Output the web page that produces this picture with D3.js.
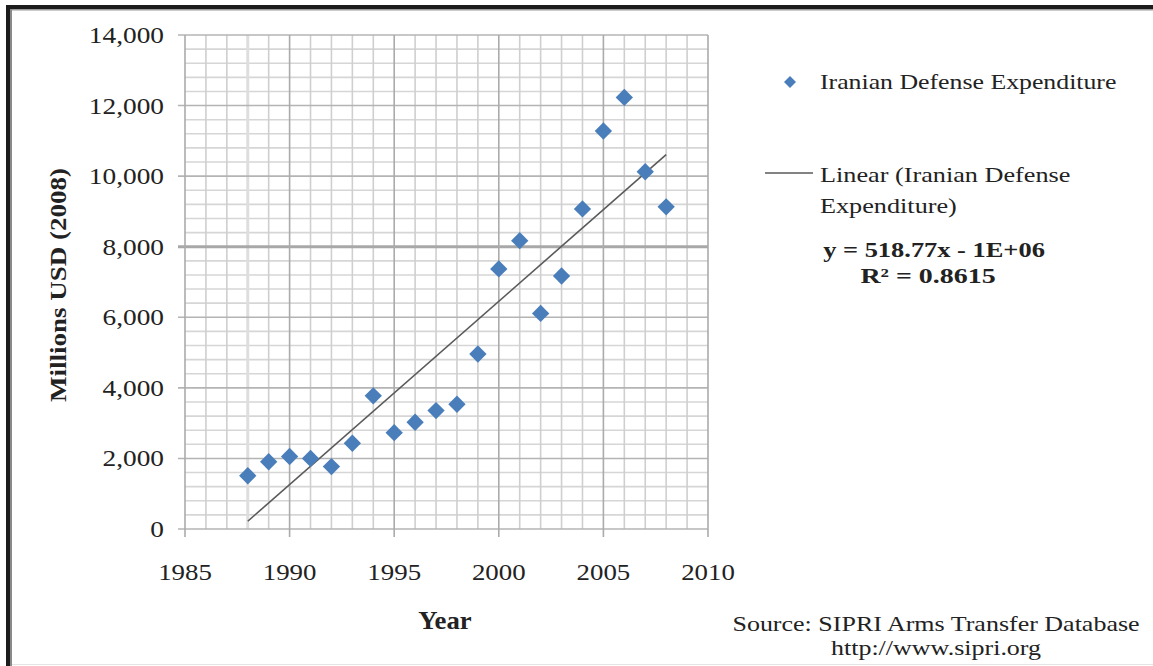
<!DOCTYPE html>
<html><head><meta charset="utf-8">
<script src="https://cdn.jsdelivr.net/npm/d3@7/dist/d3.min.js"></script>
<style>
html,body{margin:0;padding:0;background:#fff;}
svg{display:block;}
text{font-family:"Liberation Serif","Times New Roman",serif;fill:#222;}
</style></head>
<body>
<script>
const years = [1988,1989,1990,1991,1992,1993,1994,1995,1996,1997,1998,1999,2000,2001,2002,2003,2004,2005,2006,2007,2008];
const spending = [1510,1905,2055,2000,1770,2430,3775,2730,3025,3355,3535,4960,7370,8170,6110,7170,9070,11280,12230,10125,9130];
const xTicks = [1985,1990,1995,2000,2005,2010];
const yTicks = [0,2000,4000,6000,8000,10000,12000,14000];
const seriesName = "Iranian Defense Expenditure";
const trendLabel = ["Linear (Iranian Defense", "Expenditure)"];
const equationLines = ["y = 518.77x - 1E+06", "R\u00B2 = 0.8615"];
const xTitle = "Year";
const yTitle = "Millions USD (2008)";
const sourceLines = ["Source: SIPRI Arms Transfer Database", "http://www.sipri.org"];

const W = 1153, H = 666;
const svg = d3.select("body").append("svg").attr("width", W).attr("height", H);

// frame
svg.append("rect").attr("x",0).attr("y",0).attr("width",W).attr("height",H).attr("fill","#fff");
svg.append("rect").attr("x",6).attr("y",5).attr("width",W-6).attr("height",4).attr("fill","#1c1c1c");
svg.append("rect").attr("x",6).attr("y",9).attr("width",W-6).attr("height",1.5).attr("fill","#9a9a9a");
svg.append("rect").attr("x",6).attr("y",5).attr("width",4).attr("height",H-5).attr("fill","#1c1c1c");
svg.append("rect").attr("x",10).attr("y",9).attr("width",2).attr("height",H-9).attr("fill","#8a8a8a");
svg.append("line").attr("x1",12).attr("x2",W).attr("y1",H-1.5).attr("y2",H-1.5).attr("stroke","#e4e4e4").attr("stroke-width",1);

const x = d3.scaleLinear().domain([1985,2010]).range([185,708]);
const y = d3.scaleLinear().domain([0,14000]).range([529,35]);

const grid = svg.append("g");
// minor horizontal gridlines (every 400)
grid.selectAll("line.hm").data(d3.range(0,14001,400).filter(v=>v%2000!==0)).join("line")
  .attr("x1",x(1985)).attr("x2",x(2010)).attr("y1",d=>y(d)).attr("y2",d=>y(d))
  .attr("stroke","#d6d6d6").attr("stroke-width",1.6);
// minor vertical gridlines (every year)
grid.selectAll("line.vm").data(d3.range(1986,2010).filter(v=>v%5!==0)).join("line")
  .attr("x1",d=>x(d)).attr("x2",d=>x(d)).attr("y1",y(0)).attr("y2",y(14000))
  .attr("stroke",d=>d===1988?"#dedede":"#cfcfcf").attr("stroke-width",d=>d===1988?3:1.6);
// major horizontal
grid.selectAll("line.hM").data(yTicks).join("line")
  .attr("x1",x(1985)-7).attr("x2",x(2010)).attr("y1",d=>y(d)).attr("y2",d=>y(d))
  .attr("stroke",d=>d===8000?"#a8a8a8":"#b4b4b4").attr("stroke-width",d=>d===8000?3:1.6);
// major vertical
grid.selectAll("line.vM").data(xTicks).join("line")
  .attr("x1",d=>x(d)).attr("x2",d=>x(d)).attr("y1",y(0)+8).attr("y2",y(14000))
  .attr("stroke","#ababab").attr("stroke-width",1.6);

// helper for stretched text
function txt(g, s, px, py, opts){
  const t = g.append("text").text(s)
    .attr("transform",`translate(${px},${py}) scale(${opts.sx||1.12},1)`)
    .attr("font-size",opts.size||22)
    .attr("text-anchor",opts.anchor||"start");
  if(opts.bold) t.attr("font-weight","bold");
  return t;
}

// y tick labels
const yl = svg.append("g");
yTicks.forEach(v=>{
  txt(yl, d3.format(",")(v), 164, y(v)+8, {size:24, anchor:"end", sx:1.14});
});
// x tick labels
const xl = svg.append("g");
xTicks.forEach(v=>{
  txt(xl, String(v), x(v), 580, {size:24, anchor:"middle", sx:1.12});
});

// trend line computed from data
const mx = d3.mean(years), my = d3.mean(spending);
const slope = d3.sum(years,(d,i)=>(d-mx)*(spending[i]-my))/d3.sum(years,d=>(d-mx)*(d-mx));
const icpt = my - slope*mx;
const yr0 = d3.min(years), yr1 = d3.max(years);
svg.append("line")
  .attr("x1",x(yr0)).attr("y1",y(slope*yr0+icpt))
  .attr("x2",x(yr1)).attr("y2",y(slope*yr1+icpt))
  .attr("stroke","#5a5a5a").attr("stroke-width",1.6);

// points
const diamond = d3.symbol().type(d3.symbolSquare).size(150);
svg.append("g").selectAll("path").data(years).join("path")
  .attr("d",diamond)
  .attr("transform",(d,i)=>`translate(${x(d)},${y(spending[i])}) rotate(45)`)
  .attr("fill","#4a7ebb");

// axis titles
svg.append("text").text(yTitle)
  .attr("transform","translate(66,285) rotate(-90) scale(1.2,1)")
  .attr("text-anchor","middle").attr("font-size",22.5).attr("font-weight","bold");
txt(svg, xTitle, 445, 629, {size:25, anchor:"middle", bold:true, sx:1.07});

// legend
const lg = svg.append("g");
lg.append("path").attr("d",d3.symbol().type(d3.symbolSquare).size(72))
  .attr("transform","translate(790,82) rotate(45)").attr("fill","#4a7ebb");
txt(lg, seriesName, 820, 89, {size:21.5, sx:1.2});
lg.append("line").attr("x1",765).attr("x2",813).attr("y1",173).attr("y2",173)
  .attr("stroke","#5a5a5a").attr("stroke-width",1.6);
txt(lg, trendLabel[0], 820, 182, {size:21.5, sx:1.22});
txt(lg, trendLabel[1], 820, 213, {size:21.5, sx:1.22});
txt(lg, equationLines[0], 934, 257, {size:21.5, anchor:"middle", sx:1.23, bold:true});
txt(lg, equationLines[1], 928, 283, {size:21.5, anchor:"middle", sx:1.3, bold:true});

// source
txt(svg, sourceLines[0], 936, 631, {size:20, anchor:"middle", sx:1.3});
txt(svg, sourceLines[1], 936, 655, {size:20, anchor:"middle", sx:1.3});
</script>
</body></html>
